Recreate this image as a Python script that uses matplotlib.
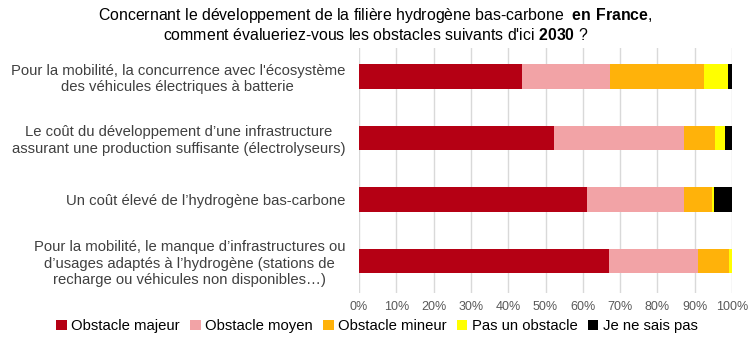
import numpy as np
import matplotlib.pyplot as plt
from matplotlib.ticker import PercentFormatter

plt.rcParams['font.family'] = ['Liberation Sans', 'DejaVu Sans']
plt.rcParams['mathtext.fontset'] = 'custom'
plt.rcParams['mathtext.rm'] = 'Liberation Sans'
plt.rcParams['mathtext.bf'] = 'Liberation Sans:bold'

# questions, top to bottom
labels = [
    "Pour la mobilité, la concurrence avec l'écosystème\ndes véhicules électriques à batterie",
    "Le coût du développement d’une infrastructure\nassurant une production suffisante (électrolyseurs)",
    "Un coût élevé de l’hydrogène bas-carbone",
    "Pour la mobilité, le manque d’infrastructures ou\nd’usages adaptés à l’hydrogène (stations de\nrecharge ou véhicules non disponibles…)",
]
categories = ["Obstacle majeur", "Obstacle moyen", "Obstacle mineur", "Pas un obstacle", "Je ne sais pas"]
majeur = [43.8, 52.3, 61.0, 67.1]
moyen = [23.5, 34.8, 26.2, 23.8]
mineur = [25.2, 8.3, 7.3, 8.2]
pas_obstacle = [6.4, 2.7, 0.7, 0.9]
ne_sait_pas = [1.1, 1.9, 4.8, 0.0]
colors = ["#b50014", "#f2a3a6", "#ffb20a", "#ffff00", "#000000"]

series = [majeur, moyen, mineur, pas_obstacle, ne_sait_pas]

fig = plt.figure(figsize=(7.54, 3.45), dpi=100)
ax = fig.add_axes([0.476, 0.151, 0.495, 0.71])

y = np.arange(len(labels))
left = np.zeros(len(labels))
for vals, name, c in zip(series, categories, colors):
    ax.barh(y, vals, left=left, height=0.4, color=c, label=name, zorder=3)
    left += np.array(vals)

ax.set_ylim(3.52, -0.46)
ax.set_xlim(0, 100)
ax.set_xticks(np.arange(0, 101, 10))
ax.xaxis.set_major_formatter(PercentFormatter(decimals=0))
ax.set_yticks(y)
ax.set_yticklabels(labels, ha='right', multialignment='center', fontsize=10.7, color='#404040')
ax.tick_params(axis='y', length=0, pad=10)
ax.tick_params(axis='x', length=0, labelsize=9, labelcolor='#595959', pad=6)
ax.grid(axis='x', color='#d9d9d9', linewidth=1, zorder=0)
for s in ax.spines.values():
    s.set_visible(False)

fig.text(0.498, 0.955, r"Concernant le développement de la filière hydrogène bas-carbone  $\bf{en\ France}$,",
         ha='center', va='center', fontsize=11.4)
fig.text(0.498, 0.898, r"comment évalueriez-vous les obstacles suivants d'ici $\bf{2030}$ ?",
         ha='center', va='center', fontsize=11.4)

fig.legend(loc='center', bbox_to_anchor=(0.50, 0.055), ncol=5, frameon=False,
           fontsize=10.7, handlelength=0.7, handleheight=0.7, handletextpad=0.3,
           columnspacing=0.7, borderaxespad=0)

fig.savefig("out.png", dpi=100)
